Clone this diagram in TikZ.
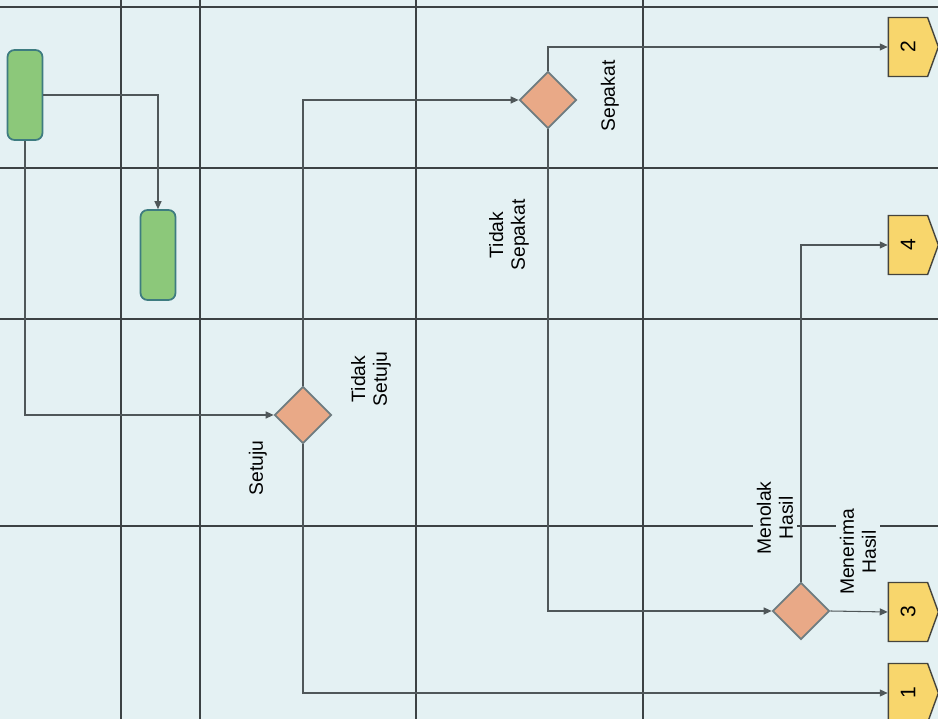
\documentclass[tikz,border=0pt]{standalone}
\usepackage{fontspec}
\setsansfont{Liberation Sans}
\usetikzlibrary{arrows.meta,shapes.geometric,shapes.symbols}

\definecolor{lanebg}{HTML}{E4F1F3}
\definecolor{gridline}{HTML}{3C4244}
\definecolor{flowline}{HTML}{4F5759}
\definecolor{termfill}{HTML}{8CC87A}
\definecolor{termdraw}{HTML}{3E7C80}
\definecolor{decfill}{HTML}{E9A987}
\definecolor{decdraw}{HTML}{6E7C80}
\definecolor{pagefill}{HTML}{F8D66C}
\definecolor{pagedraw}{HTML}{45443C}

\begin{document}
\begin{tikzpicture}[
  x=0.02cm,y=-0.02cm,
  lane/.style={gridline,line width=0.7pt},
  terminal/.style={draw=termdraw,line width=1pt,fill=termfill,rounded corners=4pt,minimum width=7mm,minimum height=18mm,inner sep=0pt},
  decision/.style={diamond,aspect=1,draw=decdraw,line width=1pt,fill=decfill,minimum width=11.4mm,minimum height=11.4mm,inner sep=0pt},
  offpage/.style={signal,signal to=east,signal pointer angle=140,draw=pagedraw,line width=0.8pt,fill=pagefill,minimum width=10mm,minimum height=11.8mm,inner sep=0pt,font=\sffamily\fontsize{12}{12}\selectfont},
  flow/.style={flowline,line width=0.6pt,-{Triangle[length=4.5pt,width=4pt]}},
  note/.style={rotate=90,align=center,font=\sffamily\fontsize{11}{12.5}\selectfont,fill=lanebg,inner sep=2pt}
]
  \fill[lanebg] (0,0) rectangle (938,719);
  \useasboundingbox (0,0) rectangle (938,719);
  \foreach \gx in {121,200,416,643}
    \draw[lane] (\gx,0) -- (\gx,719);
  \foreach \gy in {7,168,319,526}
    \draw[lane] (0,\gy) -- (938,\gy);

  \node[terminal] (start) at (25,95) {};
  \node[terminal] (task) at (158,255) {};
  \node[decision] (agree) at (303,415) {};
  \node[decision] (deal) at (548,100) {};
  \node[decision] (result) at (801,611) {};
  \node[offpage] (page2) at (908,47) {\rotatebox{90}{2}};
  \node[offpage] (page4) at (908,245) {\rotatebox{90}{4}};
  \node[offpage] (page3) at (908,612) {\rotatebox{90}{3}};
  \node[offpage] (page1) at (908,693) {\rotatebox{90}{1}};

  \node[note] (lblsetuju) at (258,468) {Setuju};
  \node[note] (lbltidaksetuju) at (371,379) {Tidak\\Setuju};
  \node[note] (lblsepakat) at (610,96) {Sepakat};
  \node[note] (lbltidaksepakat) at (509,235) {Tidak\\Sepakat};
  \node[note] (lblmenolak) at (775,518) {Menolak\\Hasil};
  \node[note] (lblmenerima) at (858,552) {Menerima\\Hasil};

  \draw[flow] (start.east) -| (task.north);
  \draw[flow] (start.south) |- (agree.west);
  \draw[flow] (agree.north) |- (deal.west);
  \draw[flow] (agree.south) |- (page1.west);
  \draw[flow] (deal.north) |- (page2.west);
  \draw[flow] (deal.south) |- (result.west);
  \draw[flow] (result.north) |- (page4.west);
  \draw[flow] (result.east) -- (page3.west);
\end{tikzpicture}
\end{document}
